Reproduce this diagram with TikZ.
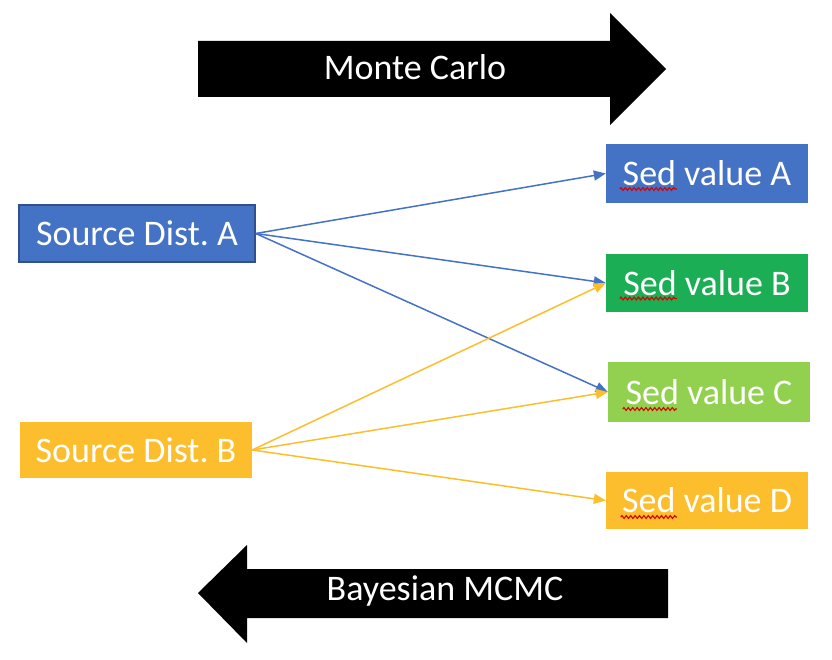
\documentclass[tikz,border=0pt]{standalone}
\usepackage{fontspec}
\setmainfont{Carlito}
\frenchspacing
\usetikzlibrary{arrows.meta,decorations.pathmorphing,calc}
\definecolor{oblue}{HTML}{4472C4}
\definecolor{oblueb}{HTML}{2F528F}
\definecolor{ogreen}{RGB}{27,174,84}
\definecolor{olime}{HTML}{92D050}
\definecolor{ogold}{RGB}{252,190,45}
\tikzset{
  box/.style={inner sep=0pt, text=white, font=\fontsize{36}{40}\selectfont, anchor=center},
  lbl/.style={inner sep=0pt, text=white, font=\fontsize{36}{40}\selectfont},
  conn/.style={line width=1.5pt, -{Triangle[length=12pt,width=10pt]}},
  squig/.style={red!85!black, line width=1.1pt, decorate, decoration={zigzag, segment length=4.4pt, amplitude=1.4pt}},
  bigarrow/.style={fill=black, draw=none}
}
\begin{document}
\begin{tikzpicture}[x=1pt,y=-1pt]
\useasboundingbox (0,0) rectangle (832,660);
% big arrows
\fill[bigarrow] (198,41) -- (610,41) -- (610,13) -- (666,69) -- (610,125) -- (610,97) -- (198,97) -- cycle;
\node[lbl] (mc) at (415,67) {Monte Carlo};
\fill[bigarrow] (198,593) -- (247,545) -- (247,569) -- (668,569) -- (668,618) -- (247,618) -- (247,643) -- cycle;
\node[lbl] (bm) at (445,591) {Bayesian MCMC};
% boxes
\node[box, fill=oblue, draw=oblueb, line width=1.5pt, minimum width=236pt, minimum height=57pt] (srcA) at (137,233.5) {Source Dist. A};
\node[box, fill=ogold, minimum width=232pt, minimum height=56pt] (srcB) at (136,450) {Source Dist. B};
\node[box, fill=oblue, minimum width=202pt, minimum height=59pt] (sedA) at (707,173.5) {Sed value A};
\node[box, fill=ogreen, minimum width=202pt, minimum height=58pt] (sedB) at (707,283) {Sed value B};
\node[box, fill=olime, minimum width=202pt, minimum height=60pt] (sedC) at (709,392) {Sed value C};
\node[box, fill=ogold, minimum width=202pt, minimum height=57pt] (sedD) at (707,500.5) {Sed value D};
% squiggles
\draw[squig] ($(sedA.west)+(14,15.5)$) -- ($(sedA.west)+(71,15.5)$);
\draw[squig] ($(sedB.west)+(14,15.5)$) -- ($(sedB.west)+(71,15.5)$);
\draw[squig] ($(sedC.west)+(15,17)$) -- ($(sedC.west)+(69,17)$);
\draw[squig] ($(sedD.west)+(15,16.5)$) -- ($(sedD.west)+(71,16.5)$);
% connectors
\draw[conn, oblue] (srcA.east) -- (sedA.west);
\draw[conn, oblue] (srcA.east) -- (sedB.west);
\draw[conn, oblue] (srcA.east) -- (sedC.west);
\draw[conn, ogold] (srcB.east) -- (sedB.west);
\draw[conn, ogold] (srcB.east) -- (sedC.west);
\draw[conn, ogold] (srcB.east) -- (sedD.west);
\end{tikzpicture}
\end{document}
